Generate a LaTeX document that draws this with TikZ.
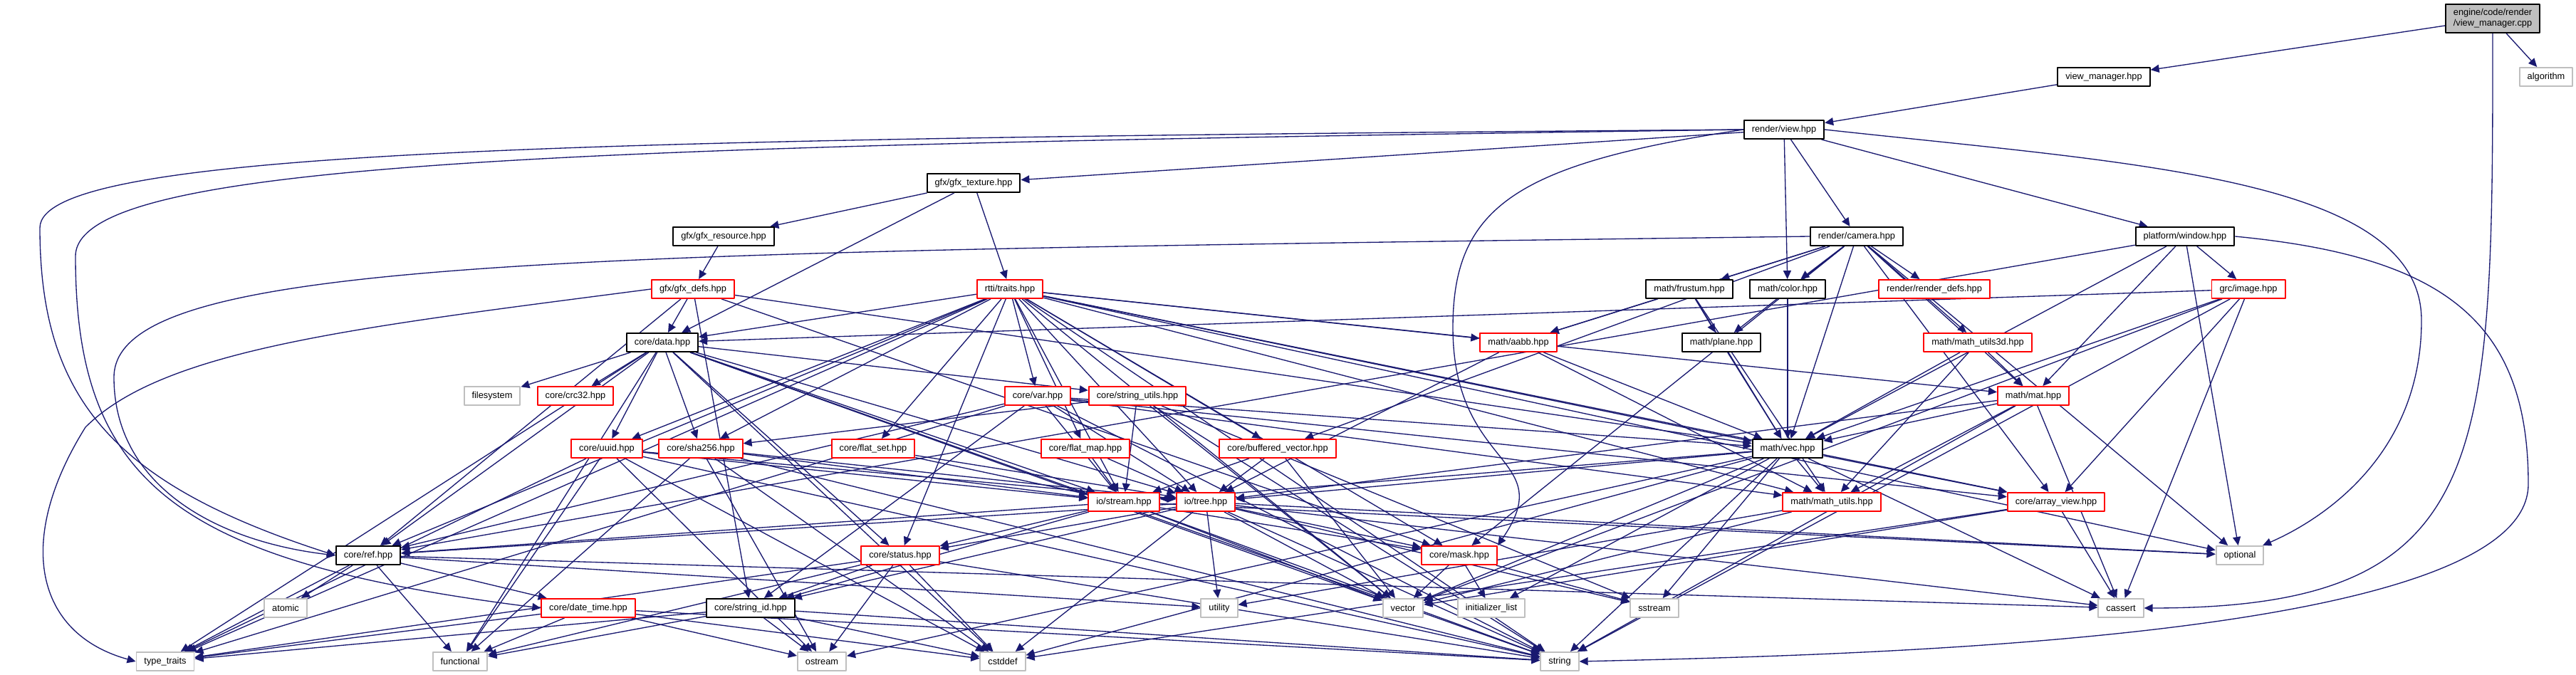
\documentclass[tikz,border=0pt]{standalone}
\usepackage{fontspec}
\setmainfont{Liberation Sans}
\usepackage{xcolor}
\usepackage{tikz}
\usetikzlibrary{arrows.meta,backgrounds}
\definecolor{edgeblue}{HTML}{191970}

\begin{document}
\begin{tikzpicture}[>={Triangle[length=0.12cm,width=0.11cm]},line join=round,
  file/.style={draw=black,fill=white,line width=0.55pt,minimum height=0.26cm,inner xsep=0.11cm,inner ysep=0pt,font=\fontsize{3.64}{4.3}\selectfont},
  trunc/.style={file,draw=red},
  sys/.style={file,draw=gray!50},
  dep/.style={->,draw=edgeblue,line width=0.38pt}]
  \useasboundingbox (0,0) rectangle (36.17,-9.48);
  \node[file,fill=gray!50,align=center,minimum height=0.40cm] (cpp) at (35.00,-0.26) {engine/code/render\\/view\_manager.cpp};
  \node[file] (vmh) at (29.54,-1.08) {view\_manager.hpp};
  \node[sys] (algo) at (35.75,-1.08) {algorithm};
  \node[file] (view) at (25.05,-1.82) {render/view.hpp};
  \node[file] (gtex) at (13.67,-2.57) {gfx/gfx\_texture.hpp};
  \node[file] (gres) at (10.16,-3.32) {gfx/gfx\_resource.hpp};
  \node[file] (camera) at (26.07,-3.32) {render/camera.hpp};
  \node[file] (window) at (30.68,-3.32) {platform/window.hpp};
  \node[trunc] (gdefs) at (9.73,-4.06) {gfx/gfx\_defs.hpp};
  \node[trunc] (traits) at (14.18,-4.06) {rtti/traits.hpp};
  \node[file] (frustum) at (23.72,-4.06) {math/frustum.hpp};
  \node[file] (color) at (25.10,-4.06) {math/color.hpp};
  \node[trunc] (rdefs) at (27.16,-4.06) {render/render\_defs.hpp};
  \node[trunc] (image) at (31.57,-4.06) {grc/image.hpp};
  \node[file] (data) at (9.30,-4.81) {core/data.hpp};
  \node[trunc] (aabb) at (21.32,-4.81) {math/aabb.hpp};
  \node[file] (plane) at (24.17,-4.81) {math/plane.hpp};
  \node[trunc] (mu3d) at (27.77,-4.81) {math/math\_utils3d.hpp};
  \node[sys] (fs) at (6.91,-5.56) {filesystem};
  \node[trunc] (crc) at (8.08,-5.56) {core/crc32.hpp};
  \node[trunc] (var) at (14.57,-5.56) {core/var.hpp};
  \node[trunc] (strutils) at (15.97,-5.56) {core/string\_utils.hpp};
  \node[trunc] (mat) at (28.55,-5.56) {math/mat.hpp};
  \node[trunc] (uuid) at (8.52,-6.30) {core/uuid.hpp};
  \node[trunc] (sha) at (9.84,-6.30) {core/sha256.hpp};
  \node[trunc] (fset) at (12.26,-6.30) {core/flat\_set.hpp};
  \node[trunc] (fmap) at (15.24,-6.30) {core/flat\_map.hpp};
  \node[trunc] (bvec) at (17.94,-6.30) {core/buffered\_vector.hpp};
  \node[file] (vec) at (25.10,-6.30) {math/vec.hpp};
  \node[trunc] (stream) at (15.78,-7.05) {io/stream.hpp};
  \node[trunc] (tree) at (16.93,-7.05) {io/tree.hpp};
  \node[trunc] (mutils) at (25.72,-7.05) {math/math\_utils.hpp};
  \node[trunc] (aview) at (28.87,-7.05) {core/array\_view.hpp};
  \node[file] (ref) at (5.17,-7.80) {core/ref.hpp};
  \node[trunc] (status) at (12.64,-7.80) {core/status.hpp};
  \node[trunc] (mask) at (20.49,-7.80) {core/mask.hpp};
  \node[sys] (optional) at (31.45,-7.80) {optional};
  \node[sys] (atomic) at (4.01,-8.54) {atomic};
  \node[trunc] (dtime) at (8.26,-8.54) {core/date\_time.hpp};
  \node[file] (strid) at (10.54,-8.54) {core/string\_id.hpp};
  \node[sys] (utility) at (17.12,-8.54) {utility};
  \node[sys] (vector) at (19.70,-8.54) {vector};
  \node[sys] (initlist) at (20.94,-8.54) {initializer\_list};
  \node[sys] (sstream) at (23.23,-8.54) {sstream};
  \node[sys] (cassert) at (29.78,-8.54) {cassert};
  \node[sys] (ttraits) at (2.32,-9.29) {type\_traits};
  \node[sys] (functional) at (6.46,-9.29) {functional};
  \node[sys] (ostream) at (11.54,-9.29) {ostream};
  \node[sys] (cstddef) at (14.08,-9.29) {cstddef};
  \node[sys] (string) at (21.90,-9.29) {string};
  \begin{scope}[on background layer]
  \draw[dep] (cpp) -- (vmh);
  \draw[dep] (cpp) -- (algo);
  \draw[dep] (cpp.south) .. controls (35.0,-6.5) and (35.0,-8.54) .. (cassert.east);
  \draw[dep] (vmh) -- (view);
  \draw[dep] (view) -- (gtex);
  \draw[dep] (view) -- (camera);
  \draw[dep] (view) -- (window);
  \draw[dep] (view) -- (color);
  \draw[dep] (view.east) .. controls (30,-2.3) and (34,-2.5) .. (34,-4.5) .. controls (34,-6.4) and (32.6,-7.3) .. (optional);
  \draw[dep] (view.west) .. controls (21.3,-2.3) and (20.4,-2.9) .. (20.4,-4.6) .. controls (20.4,-6.6) and (21.9,-6.4) .. (mask.north east);
  \draw[dep] (view.west) .. controls (8,-1.95) and (0.56,-2.1) .. (0.56,-3.2) .. controls (0.56,-5.6) and (1.6,-6.8) .. (ref.west);
  \draw[dep] (view.west) .. controls (8,-2.05) and (1.06,-2.25) .. (1.06,-3.6) .. controls (1.06,-6.8) and (2.5,-7.9) .. (dtime.west);
  \draw[dep] (gtex) -- (gres);
  \draw[dep] (gtex) -- (traits);
  \draw[dep] (gtex) -- (data);
  \draw[dep] (gres) -- (gdefs);
  \draw[dep] (gdefs) -- (data);
  \draw[dep] (gdefs.west) .. controls (5,-4.6) and (2.3,-4.9) .. (1.2,-6.0) .. controls (0.2,-7.6) and (0.5,-8.9) .. (ttraits.west);
  \draw[dep] (gdefs) -- (ref);
  \draw[dep] (gdefs) -- (strid);
  \draw[dep] (gdefs) -- (vec);
  \draw[dep] (gdefs) -- (mask);
  \draw[dep] (traits) -- (data);
  \draw[dep] (traits) -- (var);
  \draw[dep] (traits) -- (sha);
  \draw[dep] (traits) -- (fset);
  \draw[dep] (traits) -- (fmap);
  \draw[dep] (traits) -- (bvec);
  \draw[dep] (traits) -- (stream);
  \draw[dep] (traits) -- (tree);
  \draw[dep] (traits) -- (aabb);
  \draw[dep] (traits) -- (vec);
  \draw[dep] (traits) -- (mat);
  \draw[dep] (traits) -- (mutils);
  \draw[dep] (traits) -- (ref);
  \draw[dep] (traits) -- (mask);
  \draw[dep] (traits) -- (ttraits);
  \draw[dep] (traits) -- (string);
  \draw[dep] (traits) -- (uuid);
  \draw[dep] (traits) -- (status);
  \draw[dep] (traits) -- (aview);
  \draw[dep] (traits) -- (optional);
  \draw[dep] (traits) -- (vector);
  \draw[dep] (camera) -- (frustum);
  \draw[dep] (camera) -- (color);
  \draw[dep] (camera) -- (rdefs);
  \draw[dep] (camera) -- (aabb);
  \draw[dep] (camera) -- (plane);
  \draw[dep] (camera) -- (mu3d);
  \draw[dep] (camera) -- (mat);
  \draw[dep] (camera) -- (vec);
  \draw[dep] (camera) -- (bvec);
  \draw[dep] (camera) -- (aview);
  \draw[dep] (camera) -- (optional);
  \draw[dep] (camera.west) .. controls (8,-3.55) and (1.6,-3.6) .. (1.6,-5.3) .. controls (1.6,-6.8) and (3,-7.6) .. (ref.west);
  \draw[dep] (camera) -- (mask);
  \draw[dep] (window) -- (image);
  \draw[dep] (window) -- (vec);
  \draw[dep] (window) -- (ref);
  \draw[dep] (window) -- (optional);
  \draw[dep] (window) -- (mat);
  \draw[dep] (window.east) .. controls (34.3,-3.6) and (35.5,-4.5) .. (35.5,-6.8) .. controls (35.5,-9.0) and (26,-9.2) .. (string.east);
  \draw[dep] (frustum) -- (aabb);
  \draw[dep] (frustum) -- (plane);
  \draw[dep] (frustum) -- (vec);
  \draw[dep] (frustum) -- (mutils);
  \draw[dep] (color) -- (vec);
  \draw[dep] (image) -- (data);
  \draw[dep] (image) -- (vec);
  \draw[dep] (image) -- (aview);
  \draw[dep] (image) -- (vector);
  \draw[dep] (image) -- (string);
  \draw[dep] (image) -- (cassert);
  \draw[dep] (data) -- (fs);
  \draw[dep] (data) -- (crc);
  \draw[dep] (data) -- (strutils);
  \draw[dep] (data) -- (uuid);
  \draw[dep] (data) -- (sha);
  \draw[dep] (data) -- (ref);
  \draw[dep] (data) -- (stream);
  \draw[dep] (data) -- (tree);
  \draw[dep] (data) -- (status);
  \draw[dep] (data) -- (ttraits);
  \draw[dep] (data) -- (string);
  \draw[dep] (data) -- (vector);
  \draw[dep] (data) -- (functional);
  \draw[dep] (data) -- (cstddef);
  \draw[dep] (aabb) -- (vec);
  \draw[dep] (aabb) -- (mutils);
  \draw[dep] (aabb) -- (tree);
  \draw[dep] (plane) -- (vec);
  \draw[dep] (mu3d) -- (mat);
  \draw[dep] (mu3d) -- (vec);
  \draw[dep] (mu3d) -- (mutils);
  \draw[dep] (mat) -- (vec);
  \draw[dep] (mat) -- (mutils);
  \draw[dep] (mat) -- (tree);
  \draw[dep] (mat) -- (cassert);
  \draw[dep] (mat) -- (string);
  \draw[dep] (var) -- (stream);
  \draw[dep] (var) -- (tree);
  \draw[dep] (var) -- (ref);
  \draw[dep] (var) -- (mutils);
  \draw[dep] (var) -- (aview);
  \draw[dep] (var) -- (string);
  \draw[dep] (var) -- (strid);
  \draw[dep] (var) -- (ttraits);
  \draw[dep] (var) -- (vec);
  \draw[dep] (strutils) -- (sha);
  \draw[dep] (strutils) -- (stream);
  \draw[dep] (strutils) -- (string);
  \draw[dep] (strutils) -- (sstream);
  \draw[dep] (strutils) -- (vector);
  \draw[dep] (uuid) -- (stream);
  \draw[dep] (uuid) -- (tree);
  \draw[dep] (uuid) -- (ttraits);
  \draw[dep] (uuid) -- (functional);
  \draw[dep] (uuid) -- (string);
  \draw[dep] (uuid) -- (ostream);
  \draw[dep] (uuid) -- (cstddef);
  \draw[dep] (sha) -- (stream);
  \draw[dep] (sha) -- (tree);
  \draw[dep] (sha) -- (functional);
  \draw[dep] (sha) -- (string);
  \draw[dep] (sha) -- (ostream);
  \draw[dep] (sha) -- (cstddef);
  \draw[dep] (fset) -- (stream);
  \draw[dep] (fset) -- (tree);
  \draw[dep] (fmap) -- (stream);
  \draw[dep] (fmap) -- (tree);
  \draw[dep] (bvec) -- (stream);
  \draw[dep] (bvec) -- (tree);
  \draw[dep] (bvec) -- (vector);
  \draw[dep] (vec) -- (mutils);
  \draw[dep] (vec) -- (aview);
  \draw[dep] (vec) -- (tree);
  \draw[dep] (vec) -- (stream);
  \draw[dep] (vec) -- (sstream);
  \draw[dep] (vec) -- (string);
  \draw[dep] (vec) -- (cstddef);
  \draw[dep] (vec) -- (cassert);
  \draw[dep] (vec) -- (initlist);
  \draw[dep] (vec) -- (vector);
  \draw[dep] (vec) -- (ostream);
  \draw[dep] (stream) -- (ref);
  \draw[dep] (stream) -- (status);
  \draw[dep] (stream) -- (strid);
  \draw[dep] (stream) -- (mask);
  \draw[dep] (stream) -- (vector);
  \draw[dep] (stream) -- (string);
  \draw[dep] (stream) -- (optional);
  \draw[dep] (tree) -- (ref);
  \draw[dep] (tree) -- (status);
  \draw[dep] (tree) -- (strid);
  \draw[dep] (tree) -- (mask);
  \draw[dep] (tree) -- (utility);
  \draw[dep] (tree) -- (vector);
  \draw[dep] (tree) -- (optional);
  \draw[dep] (tree) -- (string);
  \draw[dep] (tree) -- (cassert);
  \draw[dep] (tree) -- (cstddef);
  \draw[dep] (tree) -- (sstream);
  \draw[dep] (mutils) -- (vector);
  \draw[dep] (mutils) -- (utility);
  \draw[dep] (aview) -- (cassert);
  \draw[dep] (aview) -- (cstddef);
  \draw[dep] (aview) -- (vector);
  \draw[dep] (ref) -- (atomic);
  \draw[dep] (ref) -- (ttraits);
  \draw[dep] (ref) -- (functional);
  \draw[dep] (ref) -- (cassert);
  \draw[dep] (ref) -- (utility);
  \draw[dep] (ref) -- (dtime);
  \draw[dep] (status) -- (strid);
  \draw[dep] (status) -- (ostream);
  \draw[dep] (status) -- (cstddef);
  \draw[dep] (status) -- (string);
  \draw[dep] (status) -- (functional);
  \draw[dep] (status) -- (ttraits);
  \draw[dep] (mask) -- (vector);
  \draw[dep] (mask) -- (initlist);
  \draw[dep] (mask) -- (sstream);
  \draw[dep] (strid) -- (ostream);
  \draw[dep] (strid) -- (cstddef);
  \draw[dep] (strid) -- (string);
  \draw[dep] (strid) -- (functional);
  \draw[dep] (strid) -- (ttraits);
  \draw[dep] (dtime) -- (functional);
  \draw[dep] (dtime) -- (ttraits);
  \draw[dep] (dtime) -- (ostream);
  \draw[dep] (dtime) -- (string);
  \draw[dep] (dtime) -- (cstddef);
  \end{scope}
\end{tikzpicture}
\end{document}
